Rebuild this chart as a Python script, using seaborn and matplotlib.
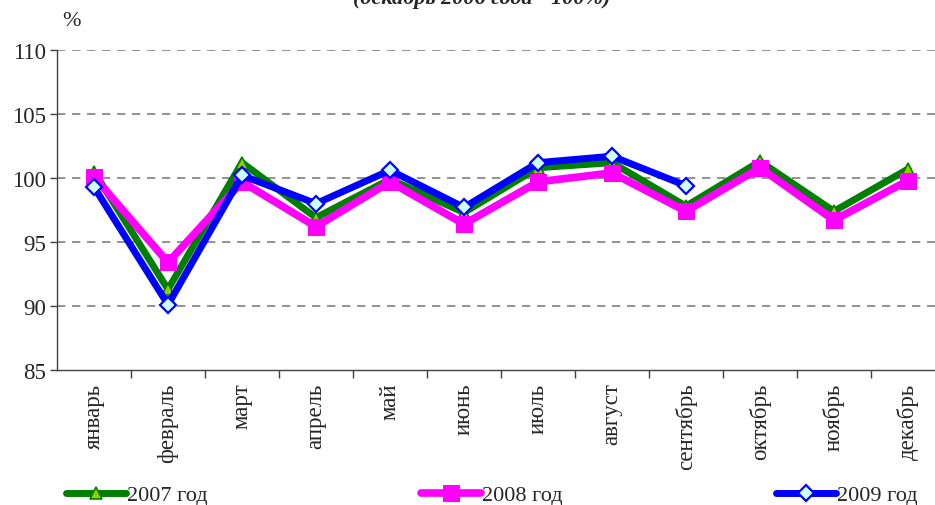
import numpy as np
import pandas as pd
import matplotlib
matplotlib.use("Agg")
import matplotlib.pyplot as plt
from matplotlib.ticker import FixedLocator
import seaborn as sns

# Data
months = ["январь", "февраль", "март", "апрель", "май", "июнь",
          "июль", "август", "сентябрь", "октябрь", "ноябрь", "декабрь"]
y2007 = [100.5, 91.3, 101.2, 96.9, 99.9, 97.3, 100.8, 101.2, 97.8, 101.3, 97.4, 100.7]
y2008 = [100.1, 93.4, 99.7, 96.2, 99.7, 96.4, 99.7, 100.4, 97.4, 100.8, 96.7, 99.8]
y2009 = [99.3, 90.1, 100.2, 98.0, 100.6, 97.7, 101.2, 101.7, 99.4, np.nan, np.nan, np.nan]
series_names = ["2007 год", "2008 год", "2009 год"]
y_ticks = [85, 90, 95, 100, 105, 110]

sns.set_theme(style="white")
plt.rcParams["font.family"] = ["Liberation Serif", "DejaVu Serif"]
plt.rcParams["font.size"] = 16

df = pd.DataFrame({"pos": range(len(months)), "month": months,
                   series_names[0]: y2007, series_names[1]: y2008,
                   series_names[2]: y2009})

fig = plt.figure(figsize=(9.35, 5.06), dpi=100)
ax = fig.add_axes([57 / 935, 135 / 506, 888 / 935, 320 / 506])

styles = {
    "2007 год": dict(color="#008000", marker="^", markersize=9,
                     markerfacecolor="#99CC00", markeredgecolor="#008000",
                     markeredgewidth=1.2, linewidth=5),
    "2008 год": dict(color="#FF00FF", marker="s", markersize=11,
                     markerfacecolor="#FF00FF", markeredgecolor="#FF00FF",
                     linewidth=5.5),
    "2009 год": dict(color="#0000FF", marker="D", markersize=8,
                     markerfacecolor="#CCFFFF", markeredgecolor="#0000FF",
                     markeredgewidth=1.6, linewidth=5),
}

for name in series_names:
    sns.lineplot(data=df, x="pos", y=name, ax=ax, label=name,
                 solid_joinstyle="miter", **styles[name])

ax.set_xlim(-0.5, len(months) - 0.5)
ax.set_ylim(85, 110)
ax.set_yticks(y_ticks)
ax.set_xticks(range(len(months)))
ax.set_xticklabels(months, rotation=90)
ax.xaxis.set_minor_locator(FixedLocator(np.arange(0.5, len(months), 1)))
ax.tick_params(axis="x", which="major", length=0, pad=9, labelsize=16.5)
ax.tick_params(axis="x", which="minor", length=6, width=1, color="#404040",
               direction="out", bottom=True)
ax.tick_params(axis="y", length=5, width=1, color="#404040", direction="out",
               left=True, labelsize=16.5, pad=3)
ax.set_xlabel("")
ax.set_ylabel("")

for y in y_ticks[1:]:
    ax.axhline(y, color="#808080", linewidth=1.2, linestyle=(0, (5, 4)), zorder=0)

for side in ["top", "right"]:
    ax.spines[side].set_visible(False)
for side in ["left", "bottom"]:
    ax.spines[side].set_color("#404040")
    ax.spines[side].set_linewidth(1)

ax.get_legend().remove()
handles, labels = ax.get_legend_handles_labels()
fig.legend(handles, labels, loc="center", bbox_to_anchor=(492 / 935, 10 / 506),
           ncol=3, frameon=False, handlelength=2.7, handletextpad=0.05,
           columnspacing=9.6, fontsize=16, borderaxespad=0)

fig.text(62 / 935, 1 - 22 / 506, "%", ha="left", va="center", fontsize=16)
fig.text(482 / 935, 1 - 4 / 506, "(декабрь 2006 года - 100%)", ha="center",
         va="baseline", fontsize=16, fontweight="bold", fontstyle="italic")

fig.savefig("out.png", dpi=100)
